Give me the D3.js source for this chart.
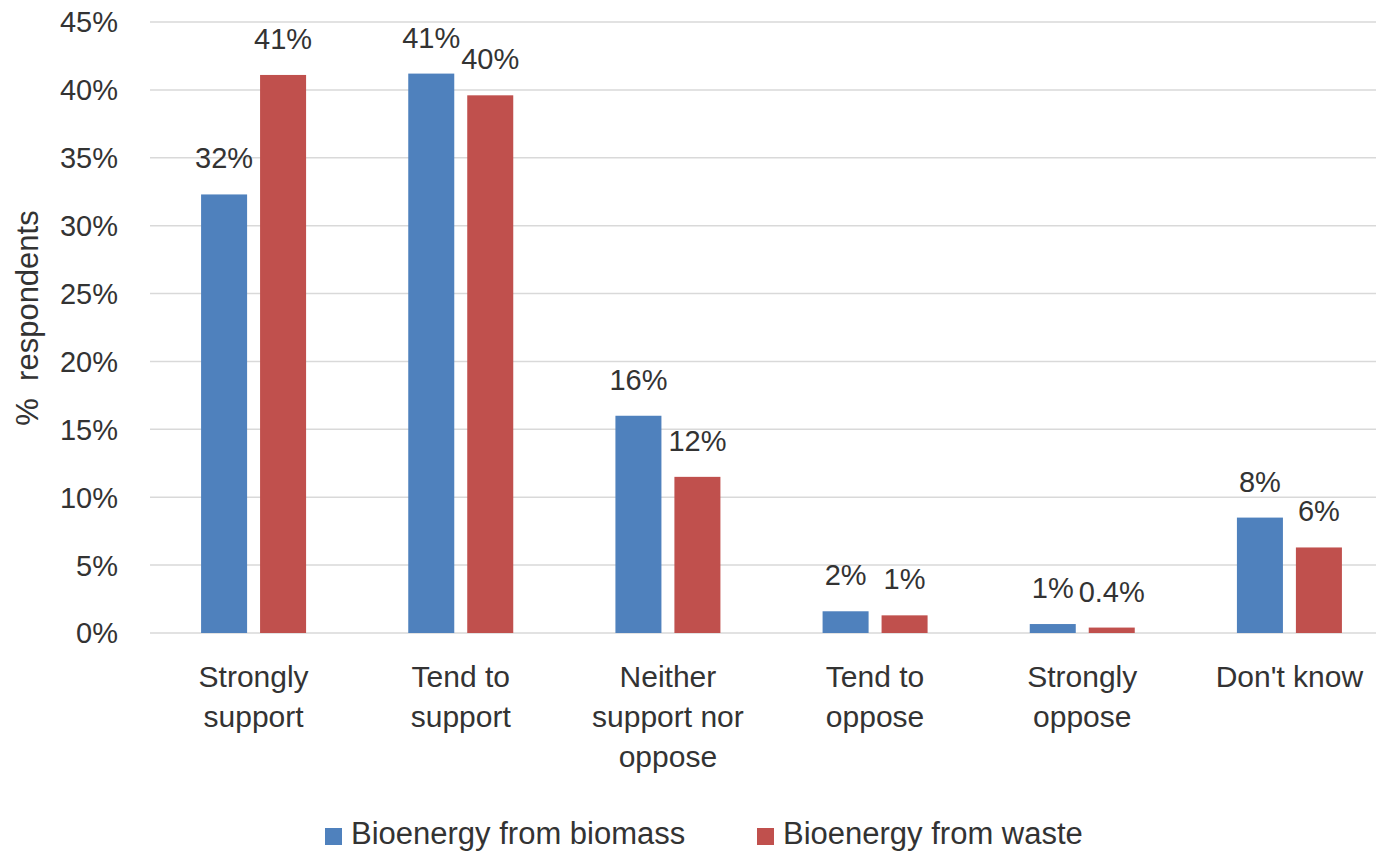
<!DOCTYPE html>
<html>
<head>
<meta charset="utf-8">
<script src="https://cdn.jsdelivr.net/npm/d3@7"></script>
<style>
  html, body { margin: 0; padding: 0; background: #fff; }
  svg { display: block; font-family: "Liberation Sans", Arial, sans-serif; }
</style>
</head>
<body>
<svg id="chart"></svg>
<script>
// data
const categories = [
  ['Strongly', 'support'],
  ['Tend to', 'support'],
  ['Neither', 'support nor', 'oppose'],
  ['Tend to', 'oppose'],
  ['Strongly', 'oppose'],
  ["Don't know"]
];
const seriesNames = ['Bioenergy from biomass', 'Bioenergy from waste'];
const biomass = [0.323, 0.412, 0.160, 0.016, 0.0066, 0.085];
const waste = [0.411, 0.396, 0.115, 0.013, 0.004, 0.063];
const biomassLabels = ['32%', '41%', '16%', '2%', '1%', '8%'];
const wasteLabels = ['41%', '40%', '12%', '1%', '0.4%', '6%'];
const yTicks = [0, 0.05, 0.10, 0.15, 0.20, 0.25, 0.30, 0.35, 0.40, 0.45];
const colors = ['#4F81BD', '#C0504D'];

const W = 1376, H = 852;
const plot = { left: 150, right: 1393, top: 22, bottom: 633 };
const textColor = '#333333';

const svg = d3.select('#chart')
  .attr('width', W)
  .attr('height', H);

const x = d3.scaleBand()
  .domain(d3.range(categories.length))
  .range([plot.left, plot.right])
  .paddingInner(0)
  .paddingOuter(0);

const xSub = d3.scaleBand()
  .domain([0, 1])
  .range([-52.5, 52.5])
  .paddingInner(0.22);

const y = d3.scaleLinear()
  .domain([0, 0.45])
  .range([plot.bottom, plot.top]);

// gridlines
svg.append('g')
  .selectAll('line')
  .data(yTicks)
  .enter().append('line')
  .attr('x1', plot.left)
  .attr('x2', W)
  .attr('y1', d => y(d))
  .attr('y2', d => y(d))
  .attr('stroke', '#D9D9D9')
  .attr('stroke-width', 1.5);

// y tick labels
svg.append('g')
  .selectAll('text')
  .data(yTicks)
  .enter().append('text')
  .attr('x', 118)
  .attr('y', d => y(d))
  .attr('dy', '0.36em')
  .attr('text-anchor', 'end')
  .attr('font-size', 29)
  .attr('fill', textColor)
  .text(d => d3.format('.0%')(d));

// y axis title
svg.append('text')
  .attr('transform', 'translate(38,318) rotate(-90)')
  .attr('text-anchor', 'middle')
  .attr('font-size', 31)
  .attr('fill', textColor)
  .attr('xml:space', 'preserve')
  .text('%  respondents');

// bars
const series = [biomass, waste];
const seriesLabels = [biomassLabels, wasteLabels];
const barData = [];
series.forEach((vals, s) => {
  vals.forEach((v, i) => barData.push({ s, i, v, label: seriesLabels[s][i] }));
});

const barX = d => x(d.i) + x.bandwidth() / 2 + xSub(d.s);

svg.append('g')
  .selectAll('rect')
  .data(barData)
  .enter().append('rect')
  .attr('x', barX)
  .attr('width', xSub.bandwidth())
  .attr('y', d => y(d.v))
  .attr('height', d => y(0) - y(d.v))
  .attr('fill', d => colors[d.s]);

// value labels
svg.append('g')
  .selectAll('text')
  .data(barData)
  .enter().append('text')
  .attr('x', d => barX(d) + xSub.bandwidth() / 2)
  .attr('y', d => y(d.v) - 26)
  .attr('text-anchor', 'middle')
  .attr('font-size', 29)
  .attr('fill', textColor)
  .text(d => d.label);

// category labels
const cat = svg.append('g')
  .selectAll('text')
  .data(categories)
  .enter().append('text')
  .attr('text-anchor', 'middle')
  .attr('font-size', 30)
  .attr('fill', textColor);

cat.selectAll('tspan')
  .data((d, i) => d.map(line => ({ line, i })))
  .enter().append('tspan')
  .attr('x', d => x(d.i) + x.bandwidth() / 2)
  .attr('y', (d, j) => 687 + j * 40)
  .text(d => d.line);

// legend
const legendItems = [
  { name: seriesNames[0], color: colors[0], x: 325 },
  { name: seriesNames[1], color: colors[1], x: 757 }
];
const legend = svg.append('g')
  .selectAll('g')
  .data(legendItems)
  .enter().append('g')
  .attr('transform', d => `translate(${d.x},0)`);

legend.append('rect')
  .attr('x', 0)
  .attr('y', 828)
  .attr('width', 17)
  .attr('height', 17)
  .attr('fill', d => d.color);

legend.append('text')
  .attr('x', 26)
  .attr('y', 844)
  .attr('font-size', 31)
  .attr('fill', textColor)
  .text(d => d.name);
</script>
</body>
</html>
